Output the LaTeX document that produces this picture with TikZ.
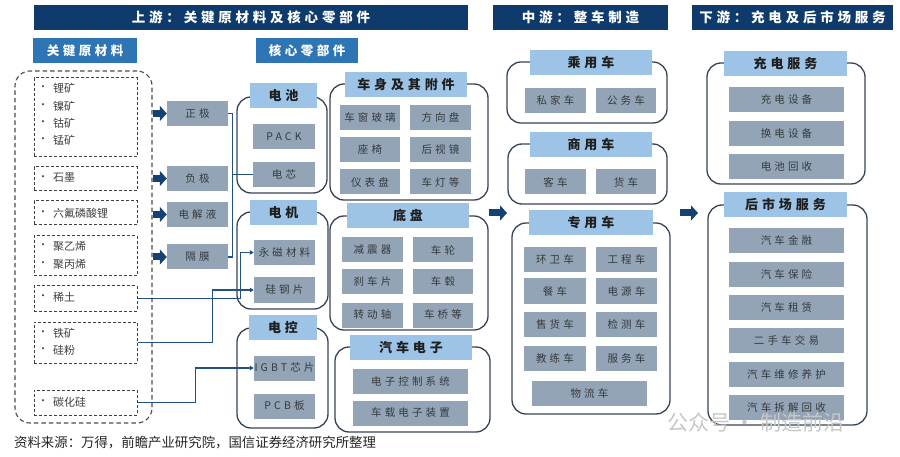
\documentclass[tikz,border=0pt]{standalone}
\usepackage{fontspec}
\setmainfont{Noto Sans CJK SC}
\newfontfamily\wideA{Noto Sans CJK SC}[LetterSpace=28]
\newfontfamily\wideB{Noto Sans CJK SC}[LetterSpace=30]
\usetikzlibrary{arrows.meta}
\definecolor{navy}{RGB}{14,59,107}
\definecolor{subblue}{RGB}{46,117,182}
\definecolor{lightblue}{RGB}{157,195,230}
\definecolor{grayb}{RGB}{146,164,182}
\definecolor{gtext}{RGB}{55,58,62}
\definecolor{outl}{RGB}{55,68,85}
\definecolor{connc}{RGB}{35,82,128}
\definecolor{arrowblue}{RGB}{22,65,115}
\begin{document}
\begin{tikzpicture}[x=1pt,y=-1pt,
  hdr/.style={fill=navy, text=white, font=\wideA\fontsize{13.5}{14}\selectfont\bfseries, minimum height=25pt, inner sep=0pt},
  sub/.style={fill=subblue, text=white, font=\wideA\fontsize{12.5}{14}\selectfont\bfseries, minimum height=25pt, inner sep=0pt},
  lbl/.style={fill=lightblue, text=black!88, font=\wideB\fontsize{13}{14}\selectfont\bfseries, minimum height=25pt, inner sep=0pt},
  gb/.style={fill=grayb, text=gtext, font=\wideB\fontsize{10.5}{12}\selectfont, minimum height=25pt, inner sep=0pt},
  grp/.style={draw=outl, line width=1.3pt, rounded corners=14pt, inner sep=0pt},
  rawbox/.style={draw=black!75, dash pattern=on 3pt off 2pt, line width=1pt, minimum width=103pt, inner sep=0pt},
  outerbox/.style={draw=black!70, dash pattern=on 4.5pt off 3pt, line width=1.1pt, rounded corners=15pt, inner sep=0pt},
  bul/.style={font=\fontsize{10}{11}\selectfont, text=black!75, inner sep=0pt},
  item/.style={anchor=west, font=\fontsize{11}{12}\selectfont, text=black!75, inner sep=0pt},
  conn/.style={draw=connc, line width=1.2pt},
  carrow/.style={conn, -{Triangle[length=4pt,width=4.5pt]}},
  blkarrow/.style={draw=arrowblue, line width=7pt, -{Triangle[length=7pt,width=15pt]}}
]
\useasboundingbox[fill=white] (0,0) rectangle (900,457);

% headers
\node[hdr, minimum width=434pt] (hUp) at (251,17.5) {上游：关键原材料及核心零部件};
\node[hdr, minimum width=175pt] (hMid) at (580.5,17.5) {中游：整车制造};
\node[hdr, minimum width=201pt] (hDown) at (792.5,17.5) {下游：充电及后市场服务};
\node[sub, minimum width=104pt] (sRaw) at (85,50.5) {关键原材料};
\node[sub, minimum width=102pt] (sCore) at (307,50.5) {核心零部件};

% raw materials
\node[outerbox, minimum width=137pt, minimum height=352pt] (rawAll) at (83.5,247) {};
\node[rawbox, minimum height=79pt] (r1) at (85.5,117.5) {};
\node[rawbox, minimum height=24pt] (r2) at (85.5,179) {};
\node[rawbox, minimum height=24pt] (r3) at (85.5,213) {};
\node[rawbox, minimum height=40pt] (r4) at (85.5,256) {};
\node[rawbox, minimum height=25pt] (r5) at (85.5,298.5) {};
\node[rawbox, minimum height=41pt] (r6) at (85.5,342.5) {};
\node[rawbox, minimum height=25pt] (r7) at (85.5,402.5) {};
\foreach \y/\t [count=\i] in {88/锂矿,106/镍矿,123/钴矿,140/锰矿,178/石墨,213/六氟磷酸锂,246/聚乙烯,264/聚丙烯,297/稀土,333/铁矿,350/硅粉,402/碳化硅}{
  \node[bul] (b\i) at (43,\y) {•};
  \node[item] (t\i) at (53,\y) {\t};
}

% first-level components
\node[gb, minimum width=61pt] (zj) at (197.5,113.5) {正极};
\node[gb, minimum width=61pt] (fj) at (197.5,178.5) {负极};
\node[gb, minimum width=61pt] (dj) at (197.5,214.5) {电解液};
\node[gb, minimum width=61pt] (gm) at (197.5,257) {隔膜};
\foreach \n in {zj,fj,dj,gm}{
  \draw[blkarrow] (rawAll.east |- \n.west) -- (\n.west);
}

% core groups: outlines
\node[grp, minimum width=90pt, minimum height=96pt] (gBat) at (282,145) {};
\node[grp, minimum width=91pt, minimum height=97pt] (gMot) at (282.5,260.5) {};
\node[grp, minimum width=91pt, minimum height=100pt] (gCtl) at (282.5,378) {};
\node[grp, minimum width=158pt, minimum height=116pt] (gBody) at (409,142) {};
\node[grp, minimum width=158pt, minimum height=114pt] (gChas) at (409,273) {};
\node[grp, minimum width=155pt, minimum height=85pt] (gElec) at (412.5,389.5) {};
\node[grp, minimum width=160pt, minimum height=61pt] (gPass) at (587,92.5) {};
\node[grp, minimum width=159pt, minimum height=60pt] (gComm) at (587.5,174) {};
\node[grp, minimum width=158pt, minimum height=191pt] (gSpec) at (591,318.5) {};
\node[grp, minimum width=158pt, minimum height=121pt] (gChg) at (786,123.5) {};
\node[grp, minimum width=159pt, minimum height=220pt] (gAft) at (787.5,315) {};

% labels
\node[lbl, minimum width=67pt] (lBat) at (283.5,96) {电池};
\node[lbl, minimum width=67pt] (lMot) at (283.5,212.5) {电机};
\node[lbl, minimum width=68pt] (lCtl) at (283,327.5) {电控};
\node[lbl, minimum width=122pt] (lBody) at (406,84.5) {车身及其附件};
\node[lbl, minimum width=122pt] (lChas) at (408,216) {底盘};
\node[lbl, minimum width=122pt] (lElec) at (411,347.5) {汽车电子};
\node[lbl, minimum width=122pt] (lPass) at (591,62.5) {乘用车};
\node[lbl, minimum width=122pt] (lComm) at (591,144.5) {商用车};
\node[lbl, minimum width=124pt] (lSpec) at (591,223) {专用车};
\node[lbl, minimum width=123pt] (lChg) at (785.5,63.5) {充电服务};
\node[lbl, minimum width=123pt] (lAft) at (785.5,204.5) {后市场服务};

% gray items
\node[gb, minimum width=62pt] (pack) at (284,136.5) {PACK};
\node[gb, minimum width=62pt] (dx) at (284,174.5) {电芯};
\node[gb, minimum width=61pt] (ym) at (284.5,252.5) {永磁材料};
\node[gb, minimum width=61pt] (gg) at (284.5,290) {硅钢片};
\node[gb, minimum width=61pt] (igbt) at (284.5,368) {IGBT芯片};
\node[gb, minimum width=61pt] (pcb) at (284.5,406) {PCB板};

\node[gb, minimum width=60pt] (cc) at (370,117.5) {车窗玻璃};
\node[gb, minimum width=61pt] (fx) at (440.5,117.5) {方向盘};
\node[gb, minimum width=60pt] (zy) at (370,149.5) {座椅};
\node[gb, minimum width=61pt] (hs) at (440.5,149.5) {后视镜};
\node[gb, minimum width=60pt] (yb) at (370,182) {仪表盘};
\node[gb, minimum width=61pt] (cd) at (440.5,182) {车灯等};

\node[gb, minimum width=61pt] (jz) at (372.5,250) {减震器};
\node[gb, minimum width=60pt] (cl) at (443,250) {车轮};
\node[gb, minimum width=61pt] (sc) at (372.5,281.5) {刹车片};
\node[gb, minimum width=60pt] (cg) at (443,281.5) {车毂};
\node[gb, minimum width=61pt] (zd) at (372.5,315) {转动轴};
\node[gb, minimum width=60pt] (cq) at (443,315) {车桥等};

\node[gb, minimum width=115pt] (dz) at (410.5,381) {电子控制系统};
\node[gb, minimum width=115pt] (cz) at (410.5,413) {车载电子装置};

\node[gb, minimum width=61pt] (sj) at (555.5,100.5) {私家车};
\node[gb, minimum width=60pt] (gw) at (626,100.5) {公务车};
\node[gb, minimum width=61pt] (kc) at (555.5,182) {客车};
\node[gb, minimum width=60pt] (hc) at (626,182) {货车};

\node[gb, minimum width=62pt] (hw) at (555,259.5) {环卫车};
\node[gb, minimum width=61pt] (gc) at (626.5,259.5) {工程车};
\node[gb, minimum width=62pt] (cc2) at (555,291) {餐车};
\node[gb, minimum width=61pt] (dy) at (626.5,291) {电源车};
\node[gb, minimum width=62pt] (sh) at (555,324.5) {售货车};
\node[gb, minimum width=61pt] (jc) at (626.5,324.5) {检测车};
\node[gb, minimum width=62pt] (jl) at (555,358) {教练车};
\node[gb, minimum width=61pt] (fw) at (626.5,358) {服务车};
\node[gb, minimum width=115pt] (wl) at (589.5,393.5) {物流车};

\node[gb, minimum width=115pt] (cs) at (786.5,99.5) {充电设备};
\node[gb, minimum width=115pt] (hd) at (786.5,133.5) {换电设备};
\node[gb, minimum width=115pt] (dh) at (786.5,166.5) {电池回收};

\node[gb, minimum width=115pt] (jr) at (786.5,240.5) {汽车金融};
\node[gb, minimum width=115pt] (bx) at (786.5,274.5) {汽车保险};
\node[gb, minimum width=115pt] (zl) at (786.5,307.5) {汽车租赁};
\node[gb, minimum width=115pt] (es) at (786.5,340.5) {二手车交易};
\node[gb, minimum width=115pt] (wx) at (786.5,374.5) {汽车维修养护};
\node[gb, minimum width=115pt] (cj) at (786.5,407.5) {汽车拆解回收};

% connectors
\draw[conn] (zj.east) -- ++(4,0) |- (gm.east);
\coordinate (brk) at (232,174.5);
\draw[conn] (brk) -- (dx.west);
\draw[carrow] (r5.east) -- ++(103,0) |- (ym.west);
\draw[carrow] (r6.east) -- ++(75,0) |- (gg.west);
\draw[carrow] (r7.east) -- ++(58,0) |- (igbt.west);

% section arrows
\coordinate (m1s) at (489,213);
\coordinate (m1e) at (507,213);
\coordinate (m2s) at (680,213);
\coordinate (m2e) at (698,213);
\draw[blkarrow] (m1s) -- (m1e);
\draw[blkarrow] (m2s) -- (m2e);

% source and watermark
\node[anchor=west, inner sep=0pt, font=\fontsize{13.4}{14}\selectfont, text=black!85] (src) at (14,443) {资料来源：万得，前瞻产业研究院，国信证券经济研究所整理};
\node[anchor=west, inner sep=0pt, font=\fontsize{21}{22}\selectfont, text=black!22] (wm) at (667,422) {公众号 · 制造前沿};
\end{tikzpicture}
\end{document}
